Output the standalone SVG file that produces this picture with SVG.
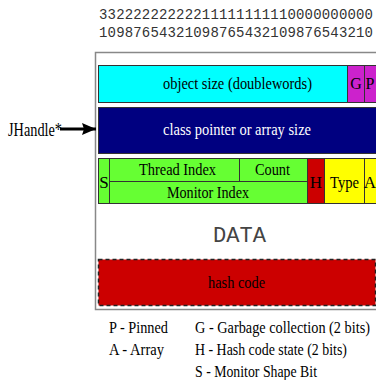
<svg xmlns="http://www.w3.org/2000/svg" width="376" height="380" viewBox="0 0 376 380">
<defs>
<marker id="ah" markerWidth="14" markerHeight="12" refX="14" refY="6" orient="auto" markerUnits="userSpaceOnUse">
<path d="M0,0 L14,6 L0,12 L2,6 Z" fill="#000"/>
</marker>
</defs>
<style>
.b{stroke:#333;stroke-width:1}
</style>
<rect width="376" height="380" fill="#fff"/>
<g id="bits" font-family="Liberation Mono, monospace" font-size="14" fill="#333">
<text x="99" y="19" textLength="274" lengthAdjust="spacing">33222222222211111111110000000000</text>
<text x="99" y="37" textLength="274" lengthAdjust="spacing">10987654321098765432109876543210</text>
</g>
<g id="frame"><rect x="95.5" y="52.5" width="285" height="257" fill="#fff" stroke="#888" stroke-width="1.5"/></g>
<g id="word0" font-family="Liberation Serif, serif" font-size="16" text-anchor="middle">
<rect class="b" x="98.5" y="65.5" width="249" height="37" fill="#00ffff"/>
<rect class="b" x="347.5" y="65.5" width="17" height="37" fill="#cc22cc"/>
<rect class="b" x="364.5" y="65.5" width="12" height="37" fill="#cc22cc"/>
<text x="237.5" y="89" textLength="149" lengthAdjust="spacingAndGlyphs">object size (doublewords)</text>
<text x="356" y="89">G</text>
<text x="370" y="89">P</text>
</g>
<g id="word1" font-family="Liberation Serif, serif" font-size="16" text-anchor="middle">
<rect class="b" x="98.5" y="107.5" width="278" height="46" fill="#000080"/>
<text x="237" y="135" fill="#fff" textLength="148" lengthAdjust="spacingAndGlyphs">class pointer or array size</text>
</g>
<g id="word2" font-family="Liberation Serif, serif" font-size="16" text-anchor="middle">
<rect class="b" x="98.5" y="158.5" width="11" height="45" fill="#66ff33"/>
<rect class="b" x="109.5" y="158.5" width="130" height="23" fill="#66ff33"/>
<rect class="b" x="239.5" y="158.5" width="68" height="23" fill="#66ff33"/>
<rect class="b" x="109.5" y="181.5" width="198" height="22" fill="#66ff33"/>
<rect class="b" x="307.5" y="158.5" width="17" height="45" fill="#cc0000"/>
<rect class="b" x="324.5" y="158.5" width="40" height="45" fill="#ffff00"/>
<rect class="b" x="364.5" y="158.5" width="12" height="45" fill="#ffff00"/>
<text x="177.5" y="175" textLength="77" lengthAdjust="spacingAndGlyphs">Thread Index</text>
<text x="272.5" y="175" textLength="35" lengthAdjust="spacingAndGlyphs">Count</text>
<text x="208" y="198" textLength="82" lengthAdjust="spacingAndGlyphs">Monitor Index</text>
<g font-size="17">
<text x="104" y="188">S</text>
<text x="316" y="188">H</text>
<text x="344.5" y="188" textLength="29" lengthAdjust="spacingAndGlyphs">Type</text>
<text x="370" y="188">A</text>
</g>
</g>
<g id="data" font-family="Liberation Mono, monospace" font-size="22" text-anchor="middle" fill="#444">
<text x="239.5" y="242" textLength="53" lengthAdjust="spacingAndGlyphs">DATA</text>
</g>
<g id="hash" font-family="Liberation Serif, serif" font-size="16" text-anchor="middle">
<rect x="98.5" y="259.5" width="277" height="46" fill="#cc0000" stroke="#222" stroke-width="1.5" stroke-dasharray="4,3"/>
<text x="236.5" y="288" textLength="57" lengthAdjust="spacingAndGlyphs">hash code</text>
</g>
<g id="handle" font-family="Liberation Serif, serif" font-size="18">
<text x="8" y="136" textLength="54" lengthAdjust="spacingAndGlyphs">JHandle*</text>
</g>
<g id="connectors">
<line x1="60" y1="129" x2="96" y2="129" stroke="#000" stroke-width="3" marker-end="url(#ah)"/>
</g>
<g id="legend" font-family="Liberation Serif, serif" font-size="16.5">
<text x="109" y="333" textLength="59" lengthAdjust="spacingAndGlyphs">P - Pinned</text>
<text x="109" y="355" textLength="55" lengthAdjust="spacingAndGlyphs">A - Array</text>
<text x="195" y="333" textLength="175" lengthAdjust="spacingAndGlyphs">G - Garbage collection (2 bits)</text>
<text x="195" y="355" textLength="152" lengthAdjust="spacingAndGlyphs">H - Hash code state (2 bits)</text>
<text x="195" y="377" textLength="122" lengthAdjust="spacingAndGlyphs">S - Monitor Shape Bit</text>
</g>
</svg>
